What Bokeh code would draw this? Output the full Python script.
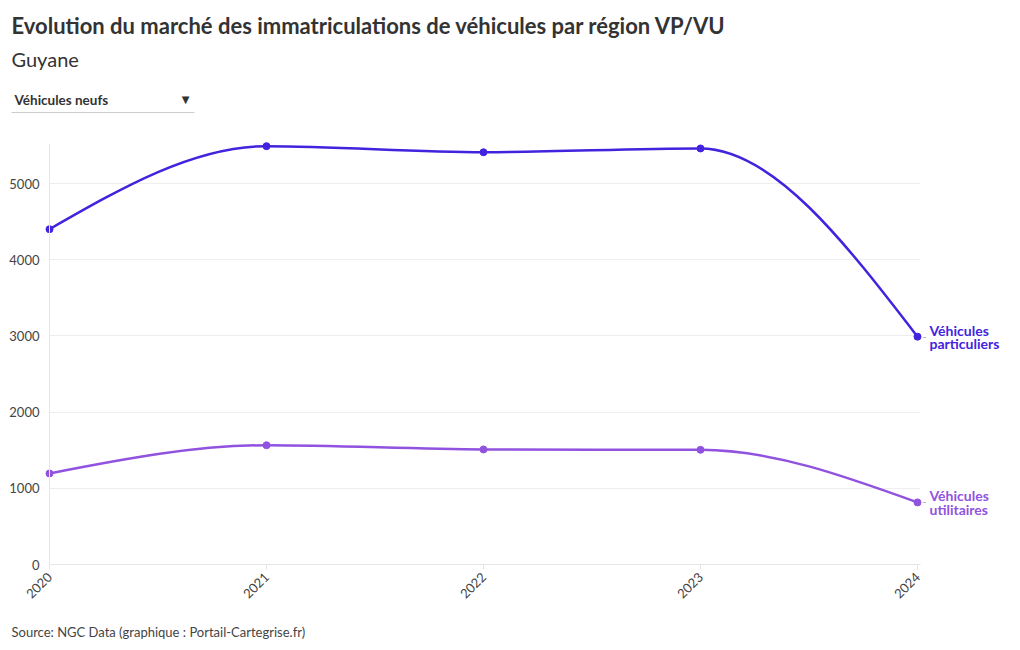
import math
from bokeh.plotting import figure
from bokeh.models import Range1d, FixedTicker, Label, BoxAnnotation, ColumnDataSource
from bokeh.embed import file_html
from bokeh.resources import INLINE

# ---- data ----
years = [2020, 2021, 2022, 2023, 2024]
vp = [4400, 5490, 5410, 5460, 2990]   # Véhicules particuliers
vu = [1195, 1565, 1510, 1505, 815]    # Véhicules utilitaires
y_ticks = [0, 1000, 2000, 3000, 4000, 5000]
title_text = "Evolution du marché des immatriculations de véhicules par région VP/VU"
subtitle_text = "Guyane"
dropdown_text = "Véhicules neufs"
source_text = "Source: NGC Data (graphique : Portail-Cartegrise.fr)"
series_labels = ["Véhicules\nparticuliers", "Véhicules\nutilitaires"]

FONT = "Lato"
C_VP = "#4323dd"
C_VU = "#9152e0"
W, H = 1012, 642

# layout anchors (pixels in the canvas)
X0_PX, X1_PX = 49, 917      # where first / last year sit
Y0_PX, Y5K_PX = 564, 183    # where 0 and 5000 sit
px_per_year = (X1_PX - X0_PX) / (years[-1] - years[0])
px_per_unit = (Y0_PX - Y5K_PX) / 5000.0


def _sign(v):
    return (v > 0) - (v < 0)


def monotone_tangents(xs, ys):
    n = len(xs)
    t = [0.0] * n
    for i in range(1, n - 1):
        h0 = xs[i] - xs[i - 1]
        h1 = xs[i + 1] - xs[i]
        s0 = (ys[i] - ys[i - 1]) / h0
        s1 = (ys[i + 1] - ys[i]) / h1
        p = (s0 * h1 + s1 * h0) / (h0 + h1)
        t[i] = (_sign(s0) + _sign(s1)) * min(abs(s0), abs(s1), 0.5 * abs(p))
    h = xs[1] - xs[0]
    t[0] = (3 * (ys[1] - ys[0]) / h - t[1]) / 2
    h = xs[-1] - xs[-2]
    t[-1] = (3 * (ys[-1] - ys[-2]) / h - t[-2]) / 2
    return t


def bezier_source(xs, ys):
    t = monotone_tangents(xs, ys)
    d = dict(x0=[], y0=[], x1=[], y1=[], cx0=[], cy0=[], cx1=[], cy1=[])
    for i in range(len(xs) - 1):
        h = (xs[i + 1] - xs[i]) / 3
        d["x0"].append(xs[i]); d["y0"].append(ys[i])
        d["x1"].append(xs[i + 1]); d["y1"].append(ys[i + 1])
        d["cx0"].append(xs[i] + h); d["cy0"].append(ys[i] + h * t[i])
        d["cx1"].append(xs[i + 1] - h); d["cy1"].append(ys[i + 1] - h * t[i + 1])
    return ColumnDataSource(d)


x_start = years[0] - X0_PX / px_per_year
x_end = years[0] + (W - X0_PX) / px_per_year
y_start = -(H - Y0_PX) / px_per_unit
y_end = Y0_PX / px_per_unit
x_axis_end = years[-1] + 3 / px_per_year       # axis/grid run a bit past last year
y_axis_end = (Y0_PX - 143) / px_per_unit       # top of the vertical axis line

p = figure(width=W, height=H, output_backend="svg", toolbar_location=None,
           x_range=Range1d(x_start, x_end), y_range=Range1d(y_start, y_end),
           min_border=0, min_border_left=0, min_border_right=0,
           min_border_top=0, min_border_bottom=0)
p.outline_line_color = None
p.background_fill_color = "white"
p.border_fill_color = "white"

# axes drawn at fixed data positions (take no side-panel space)
p.xaxis.fixed_location = 0
p.yaxis.fixed_location = years[0]
p.xaxis.bounds = (years[0], x_axis_end)
p.yaxis.bounds = (0, y_axis_end)
p.xaxis.ticker = FixedTicker(ticks=years)
p.yaxis.ticker = FixedTicker(ticks=y_ticks)
p.xaxis.major_label_orientation = math.pi / 4
for ax in (p.xaxis, p.yaxis):
    ax.axis_line_color = "#e6e6e6"
    ax.major_tick_line_color = "#e6e6e6"
    ax.minor_tick_line_color = None
    ax.major_label_text_font = FONT
    ax.major_label_text_font_size = "13px"
    ax.major_label_text_color = "#444444"
p.yaxis.major_tick_out = 0
p.yaxis.major_tick_in = 0
p.yaxis.major_label_standoff = 10
p.xaxis.major_tick_out = 5
p.xaxis.major_tick_in = 0
p.xaxis.major_label_standoff = 5

p.xgrid.grid_line_color = None
ygrid = p.ygrid[0]
if "cross_bounds" in ygrid.properties():
    ygrid.grid_line_color = "#eeeeee"
    ygrid.bounds = (0, y_axis_end)
    ygrid.cross_bounds = (years[0], x_axis_end)
else:
    ygrid.grid_line_color = None
    gt = [v for v in y_ticks if v > 0]
    p.segment(x0=[years[0]] * len(gt), x1=[x_axis_end] * len(gt), y0=gt, y1=gt,
              line_color="#eeeeee", line_width=1, level="underlay")

for ser, col in ((vp, C_VP), (vu, C_VU)):
    p.bezier(x0="x0", y0="y0", x1="x1", y1="y1", cx0="cx0", cy0="cy0",
             cx1="cx1", cy1="cy1", source=bezier_source(years, ser),
             line_color=col, line_width=2.5)
    p.scatter(years, ser, size=7, color=col)

# series end labels (data units) with small connector dash
for ser, col, lab in ((vp, C_VP, series_labels[0]), (vu, C_VU, series_labels[1])):
    p.add_layout(Label(x=years[-1], y=ser[-1], x_offset=5, text="-",
                       text_font=FONT, text_font_size="11px", text_color="#aaaaaa",
                       text_baseline="middle"))
    p.add_layout(Label(x=years[-1], y=ser[-1], x_offset=12, text=lab,
                       text_font=FONT, text_font_style="bold", text_font_size="14px",
                       text_color=col, text_baseline="middle", text_line_height=0.78))


def top(py):
    """canvas y (from top) -> screen units (from frame bottom)"""
    return H - py


# header / footer
p.add_layout(Label(x=11, y=top(25), x_units="screen", y_units="screen", text=title_text,
                   text_font=FONT, text_font_style="bold", text_font_size="22px",
                   text_color="#333333", text_baseline="middle"))
p.add_layout(Label(x=11, y=top(58), x_units="screen", y_units="screen", text=subtitle_text,
                   text_font=FONT, text_font_size="20px", text_color="#333333",
                   text_baseline="middle"))
p.add_layout(Label(x=14, y=top(99), x_units="screen", y_units="screen", text=dropdown_text,
                   text_font=FONT, text_font_style="bold", text_font_size="13.5px",
                   text_color="#333333", text_baseline="middle"))
p.add_layout(Label(x=185, y=top(99), x_units="screen", y_units="screen", text="▼",
                   text_font="DejaVu Sans", text_font_size="10px",
                   text_color="#333333", text_baseline="middle", text_align="center"))
p.add_layout(BoxAnnotation(left=11, right=194, bottom=top(112.5), top=top(111.5),
                           left_units="screen", right_units="screen",
                           bottom_units="screen", top_units="screen",
                           fill_color="#cccccc", fill_alpha=1, line_color=None))
p.add_layout(Label(x=11, y=top(631), x_units="screen", y_units="screen", text=source_text,
                   text_font=FONT, text_font_size="13px", text_color="#444444",
                   text_baseline="middle"))

open("out.html", "w").write(file_html(p, INLINE))
